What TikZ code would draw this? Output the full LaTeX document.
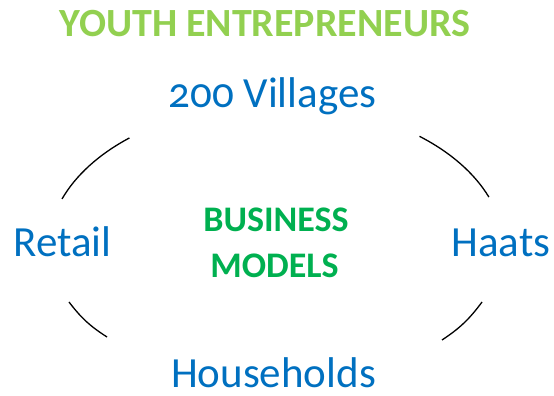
\documentclass[tikz,border=0pt]{standalone}
\usepackage{fontspec}
\setmainfont{Carlito}[Numbers=OldStyle]
\definecolor{titlegreen}{HTML}{92D050}
\definecolor{bizgreen}{HTML}{00B050}
\definecolor{labelblue}{HTML}{0070C0}
\begin{document}
\begin{tikzpicture}[x=1pt,y=1pt,
  lbl/.style={text=labelblue,font=\fontsize{43}{46}\selectfont,inner sep=0pt,anchor=base},
  ttl/.style={text=titlegreen,font=\fontsize{40}{43}\selectfont\bfseries,inner sep=0pt,anchor=base},
  biz/.style={text=bizgreen,font=\fontsize{36}{39}\selectfont\bfseries,inner sep=0pt,anchor=base},
  ring/.style={line width=1.3pt,black}]
\useasboundingbox (0,0) rectangle (554,396);
\coordinate (C) at (276,147);
\coordinate (bl1) at (69,{396-302});
\coordinate (bl2) at (107,{396-337});
\coordinate (br1) at (442,{396-340});
\coordinate (br2) at (482,{396-302});
\node[ttl] (title) at (265,{396-37}) {YOUTH ENTREPRENEURS};
\node[lbl] (villages) at (272.5,{396-108}) {200 Villages};
\node[lbl] (retail) at (62.5,{396-257}) {Retail};
\node[lbl] (haats) at (501,{396-257}) {Haats};
\node[lbl] (households) at (273.5,{396-387}) {Households};
\node[biz] (business) at (276,{396-232}) {BUSINESS};
\node[biz] (models) at (274.5,{396-278}) {MODELS};
\draw[ring] ([shift={(159.8:228 and 145)}]C) arc[start angle=159.8,end angle=130,x radius=228,y radius=145];
\draw[ring] ([shift={(51:228 and 145)}]C) arc[start angle=51,end angle=21,x radius=228,y radius=145];
\draw[ring] (bl1) to[bend right=10] (bl2);
\draw[ring] (br1) to[bend right=10] (br2);
\end{tikzpicture}
\end{document}
